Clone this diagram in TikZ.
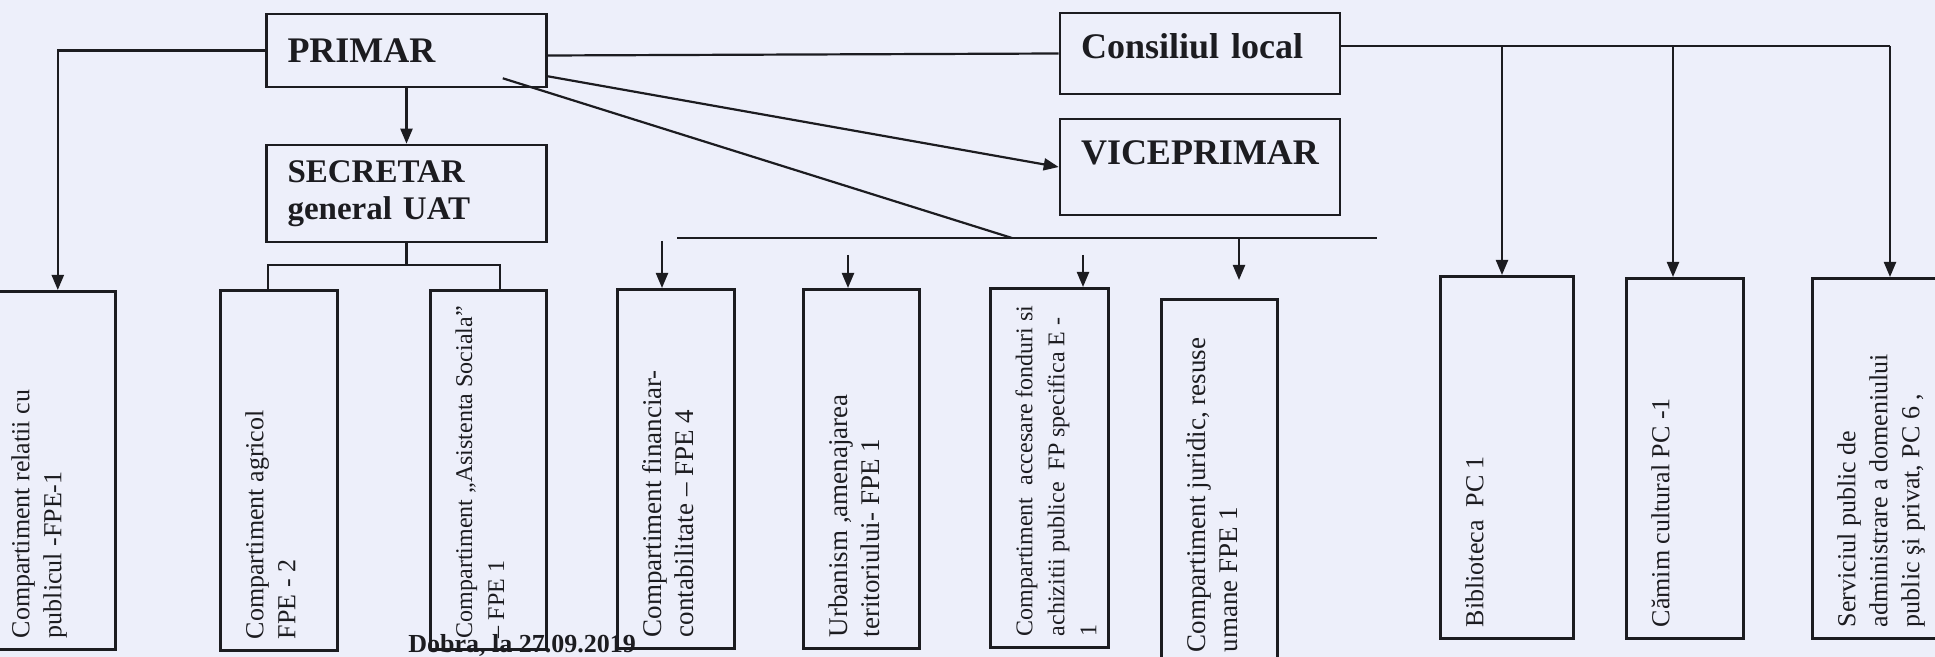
\documentclass[tikz,border=0pt]{standalone}
\usepackage{fontspec}
\setmainfont{Liberation Serif}
\usetikzlibrary{arrows.meta}
\definecolor{paper}{RGB}{237,239,250}
\definecolor{ink}{RGB}{28,28,32}
\newcommand\colorFrame{ink}
\newcommand\colorPaper{paper}
\newcommand\unitFont{\fontsize{13}{16}\selectfont}
\newcommand\headFont{\fontsize{18}{20}\selectfont\bfseries}
\tikzset{
	headbox/.style={draw=\colorFrame, line width=1.3pt, align=left, inner xsep=10pt, text width=119pt, minimum width=140pt, minimum height=#1, font=\headFont, text=\colorFrame},
	unitbox/.style={draw=\colorFrame, line width=1.3pt, anchor=north west, inner sep=0pt},
	unittext/.style={rotate=90, anchor=north west, align=left, inner sep=0pt, font=\unitFont, text=\colorFrame},
	link/.style={draw=\colorFrame, line width=1.1pt},
	arr/.style={link, -{Triangle[length=7.5pt,width=6pt]}}
}
\newcommand\unitBox[7][]{
	\node[unitbox, minimum width=#5*0.5pt, minimum height=#6*0.5pt] (#2) at (#3,#4) {};
	\node[unittext, #1] (#2t) at ([shift={(26,-12)}]#2.south west) {#7};
}

\begin{document}
\begin{tikzpicture}[x=0.5pt, y=-0.5pt]
	\fill[\colorPaper] (0,0) rectangle (1935,657);
	\useasboundingbox (0,0) rectangle (1935,657);

	\node[headbox=36.5pt] (primar) at (406.5,50.5) {PRIMAR};
	\node[headbox=48.5pt, font=\fontsize{16.5}{18.5}\selectfont\bfseries] (secretar) at (406.5,193.5) {SECRETAR\\general UAT};
	\node[headbox=40.5pt, text depth=7.8pt] (consiliu) at (1200,53.5) {Consiliul local};
	\node[headbox=48pt, text depth=14pt] (vice) at (1200,167) {VICEPRIMAR};

	\unitBox{b1}{-15}{290}{129}{358}{Compartiment relatii cu\\publicul -FPE-1}
	\unitBox{b2}{219}{289}{117}{360}{Compartiment agricol\\FPE - 2}
	\unitBox[font=\fontsize{12}{16}\selectfont]{b3}{429}{289}{116}{359}{Compartiment „Asistenta Sociala”\\– FPE 1}
	\unitBox[font=\fontsize{13.5}{16}\selectfont]{b4}{616}{288}{117}{359}{Compartiment financiar-\\contabilitate – FPE 4}
	\unitBox[font=\fontsize{13.5}{16}\selectfont]{b5}{802}{288}{116}{359}{Urbanism ,amenajarea\\teritoriului- FPE 1}
	\unitBox[font=\fontsize{12}{16}\selectfont]{b6}{989}{287}{118}{359}{Compartiment~~accesare fonduri si\\achizitii publice~~FP specifica E -\\1}
	\unitBox[font=\fontsize{13.5}{16}\selectfont]{b7}{1160}{298}{116}{364}{Compartiment juridic, resuse\\umane FPE 1}
	\unitBox{b8}{1439}{275}{133}{362}{Biblioteca~~PC 1}
	\unitBox{b9}{1625}{277}{117}{360}{Cămim cultural PC -1}
	\unitBox{b10}{1811}{277}{134}{360}{Serviciul public de\\administrare a domeniului\\public şi privat, PC 6 ,}

	\coordinate (busL) at (677,238);
	\coordinate (busJ) at (1012,238);
	\coordinate (busR) at (1377,238);
	\coordinate (cbus) at (1890,46);

	\draw[arr] (primar.west) -| ([xshift=3.5pt]b1.north);
	\draw[link] ([yshift=-2.5pt]primar.east) -- (consiliu.west);
	\draw[arr] (primar.south) -- (secretar.north);
	\draw[arr] ([yshift=6pt]primar.south east) -- (vice.west);
	\draw[link] ([shift={(-45,-10)}]primar.south east) -- (busJ);
	\draw[link] (busL) -- (busR);

	\coordinate (sj) at ([yshift=-11pt]secretar.south);
	\draw[link] (secretar.south) -- (sj);
	\draw[link] ([xshift=-5.5pt]b2.north) |- (sj) -| ([xshift=6pt]b3.north);

	\foreach \x/\y/\b in {662/241/b4, 848/255/b5, 1083/255/b6}
		\draw[arr] (\x,\y) -- (\x,\y |- \b.north);
	\draw[arr, shorten >=9pt] (1239,238) -- (1239,238 |- b7.north);

	\draw[link] ([yshift=3.75pt]consiliu.east) -- (cbus);
	\foreach \x/\b in {1502/b8, 1673/b9, 1890/b10}
		\draw[arr] (\x,46) -- (\x,46 |- \b.north);

	\node[anchor=north west, inner sep=0pt, font=\fontsize{13}{15}\selectfont\bfseries, text=\colorFrame] (data) at (408,634) {Dobra, la 27.09.2019};
\end{tikzpicture}
\end{document}
